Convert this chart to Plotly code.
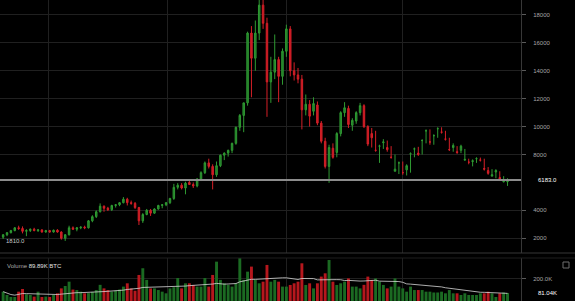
import pandas as pd
import plotly.graph_objects as go

# ---------------- data (3-day candles, BTC/USD) ----------------
start_date = "2017-05-27"
n_candles = 131

opens = [2080, 2250, 2400, 2550, 2750, 2700, 2500, 2550, 2650, 2550,
         2600, 2450, 2550, 2450, 2580, 2450, 2000, 2250, 2750, 2650,
         2750, 2800, 2750, 3250, 3550, 3900, 4300, 4150, 4050, 4350,
         4400, 4550, 4800, 4550, 4500, 4200, 3250, 3700, 4000, 3800,
         4100, 4350, 4400, 4550, 4850, 5650, 5800, 5600, 6000, 5850,
         5750, 6250, 6700, 7400, 7150, 6550, 7200, 7950, 8100, 8300,
         8800, 9950, 10800, 11700, 16700, 14900, 16700, 18700, 17400, 13200,
         13900, 14800, 13600, 15400, 17000, 14000, 13700, 13400, 11200, 11600,
         11100, 11550, 10250, 8950, 7150, 8450, 8150, 9500, 11000, 11300,
         10100, 10400, 11000, 11500, 10000, 9500, 8300, 8600, 8850, 8500,
         7800, 6800, 7400, 6700, 6900, 8050, 8400, 8100, 9000, 9700,
         8900, 9350, 9850, 9600, 9100, 8350, 8500, 8200, 8300, 7600,
         7450, 7500, 7700, 7600, 7000, 6850, 6450, 6750, 6350, 6050, 6050]
highs = [2300, 2450, 2600, 2800, 2900, 2850, 2650, 2700, 2750, 2650,
         2650, 2600, 2600, 2620, 2650, 2500, 2300, 2900, 2850, 2800,
         2850, 2900, 3300, 3650, 4000, 4500, 4350, 4250, 4400, 4450,
         4600, 4950, 4900, 4700, 4600, 4250, 3800, 4100, 4100, 4150,
         4400, 4450, 4600, 4900, 5900, 5950, 5950, 6050, 6150, 6000,
         6300, 6800, 7500, 7700, 7300, 7500, 8000, 8150, 8350, 8850,
         10000, 10900, 11700, 16800, 17200, 17600, 19100, 19800, 17800, 15000,
         16600, 15000, 15600, 17300, 17200, 14600, 14200, 13700, 12300, 11900,
         12100, 11800, 10400, 9200, 8700, 8800, 9600, 11100, 11750, 11500,
         10600, 11100, 11700, 11600, 10100, 9900, 9700, 8700, 9100, 9000,
         8600, 8000, 7500, 7500, 7300, 8150, 8500, 8550, 9100, 9800,
         9800, 9450, 9950, 9950, 9700, 9200, 8800, 8600, 8700, 8400,
         7700, 7650, 7800, 7780, 7700, 7100, 6950, 6950, 6800, 6450, 6300]
lows = [1950, 2150, 2350, 2500, 2600, 2350, 2150, 2450, 2500, 2450,
        2400, 2400, 2400, 2400, 2400, 1900, 1810, 2200, 2600, 2500,
        2650, 2650, 2700, 3150, 3450, 3850, 3900, 3950, 3950, 4200,
        4300, 4500, 4350, 4400, 4100, 2950, 3100, 3650, 3600, 3750,
        4050, 4150, 4300, 4450, 4750, 5500, 5500, 5150, 5850, 5600,
        5650, 6100, 6600, 7000, 5500, 6400, 7100, 7600, 7850, 8100,
        8700, 9700, 9600, 11500, 12100, 14000, 16200, 17000, 10700, 11700,
        13400, 11750, 13000, 15000, 13600, 13300, 13100, 9800, 10800, 10000,
        10800, 10100, 8800, 7000, 5970, 7700, 7800, 9300, 10700, 9900,
        9700, 10200, 10800, 9900, 8600, 8500, 8200, 7400, 8400, 8200,
        7700, 6800, 6600, 6550, 6500, 6700, 7800, 7900, 8000, 8800,
        8700, 8700, 9200, 9500, 9000, 8250, 8200, 8050, 8100, 7550,
        7300, 7150, 7400, 7500, 6850, 6550, 6450, 6300, 6100, 6000, 5750]
closes = [2250, 2400, 2550, 2750, 2700, 2500, 2550, 2650, 2550, 2600,
          2450, 2550, 2450, 2580, 2450, 2000, 2250, 2750, 2650, 2750,
          2800, 2750, 3250, 3550, 3900, 4300, 4150, 4050, 4350, 4400,
          4550, 4800, 4550, 4500, 4200, 3250, 3700, 4000, 3800, 4100,
          4350, 4400, 4550, 4850, 5650, 5800, 5600, 5950, 5850, 5750,
          6250, 6700, 7400, 7150, 6550, 7200, 7950, 8100, 8300, 8800,
          9950, 10800, 11700, 16700, 14900, 16700, 18700, 17400, 13200, 13900,
          14800, 13600, 15400, 17000, 14000, 13700, 13400, 11200, 11600, 10750,
          11650, 10250, 8950, 7150, 8500, 7800, 9500, 11000, 11350, 10150,
          10450, 11000, 11500, 10000, 8750, 9200, 8300, 8600, 8900, 8350,
          7800, 6950, 7400, 6700, 7200, 8050, 8400, 8000, 9000, 9700,
          8900, 9350, 9850, 9600, 9100, 8350, 8650, 8150, 8600, 7650,
          7450, 7550, 7700, 7600, 6950, 6650, 6550, 6850, 6250, 6100, 6183]
volumes_k = [92, 64, 47, 47, 92, 115, 70, 64, 50, 92,
             47, 50, 47, 64, 78, 120, 140, 177, 110, 106,
             92, 78, 80, 90, 106, 150, 120, 106, 92, 100,
             110, 135, 163, 120, 100, 234, 291, 192, 120, 120,
             106, 92, 78, 120, 130, 208, 120, 163, 163, 149,
             135, 135, 208, 135, 234, 347, 192, 163, 150, 135,
             163, 384, 192, 262, 305, 192, 163, 177, 319, 177,
             192, 177, 135, 135, 149, 163, 177, 333, 149, 163,
             120, 163, 220, 248, 361, 177, 149, 163, 177, 205,
             135, 135, 120, 150, 220, 192, 205, 177, 149, 120,
             135, 205, 135, 120, 92, 135, 106, 106, 106, 92,
             92, 85, 85, 92, 78, 106, 78, 78, 64, 78,
             64, 64, 64, 78, 78, 92, 78, 47, 78, 85, 81.04]

last_price = 6183.0
price_ticks = [2000, 4000, 8000, 10000, 12000, 14000, 16000, 18000]
volume_ticks = [200000]
volume_tick_text = ["200.0K"]
volume_label = "Volume"
volume_value_text = "89.89K BTC"

# ---------------- derived ----------------
dates = pd.date_range(start_date, periods=n_candles, freq="3D")
volumes = [v * 1000 for v in volumes_k]
vol_ma = pd.Series(volumes).rolling(20, min_periods=1).mean()
up = [c >= o for o, c in zip(opens, closes)]
vol_colors = ["#1b6a22" if u else "#b5171d" for u in up]

W, H = 575, 301
plot_right = 521 / W
sep_y = 1 - 253 / H
vol_top = 1 - 258 / H

fig = go.Figure()
fig.add_trace(go.Candlestick(
    x=dates, open=opens, high=highs, low=lows, close=closes,
    increasing=dict(line=dict(color="#2f9a32", width=1), fillcolor="#21762a"),
    decreasing=dict(line=dict(color="#d41f27", width=1), fillcolor="#c81b23"),
    xaxis="x", yaxis="y", showlegend=False, hoverinfo="skip"))
fig.add_trace(go.Bar(
    x=dates, y=volumes, marker=dict(color=vol_colors, line=dict(width=0)),
    xaxis="x2", yaxis="y2", showlegend=False, hoverinfo="skip"))
fig.add_trace(go.Scatter(
    x=dates, y=vol_ma, mode="lines", line=dict(color="rgba(215,215,215,0.8)", width=1),
    xaxis="x2", yaxis="y2", showlegend=False, hoverinfo="skip"))

grid = "rgb(32,32,32)"
xr = ["2017-05-24 14:00", "2018-07-01 10:00"]
tickfont = dict(family="Liberation Sans, Arial, sans-serif", size=6, color="rgb(165,165,165)")

fig.update_layout(
    width=W, height=H,
    margin=dict(l=0, r=0, t=0, b=0),
    paper_bgcolor="#000000", plot_bgcolor="#000000",
    showlegend=False, bargap=0.25, boxgap=0.45,
    xaxis=dict(domain=[0, plot_right], range=xr, type="date",
               rangeslider=dict(visible=False),
               tick0="2017-07-01", dtick="M3", showticklabels=False,
               showgrid=True, gridcolor=grid, gridwidth=1, zeroline=False,
               anchor="y"),
    xaxis2=dict(domain=[0, plot_right], range=xr, type="date", matches="x",
                tick0="2017-07-01", dtick="M3", showticklabels=False,
                showgrid=True, gridcolor=grid, gridwidth=1, zeroline=False,
                anchor="y2"),
    yaxis=dict(domain=[sep_y, 1], range=[945, 19069], side="right", anchor="x",
               tickvals=price_ticks, tickformat="d", ticks="outside", ticklen=4,
               tickcolor="rgb(90,90,90)", tickfont=tickfont,
               ticklabelstandoff=6,
               showgrid=True, gridcolor=grid, gridwidth=1, zeroline=False,
               showline=True, linecolor="rgb(55,55,55)", linewidth=1),
    yaxis2=dict(domain=[0, vol_top], range=[12800, 378000], side="right", anchor="x2",
                tickvals=volume_ticks, ticktext=volume_tick_text, ticks="outside",
                ticklen=4, tickcolor="rgb(90,90,90)", tickfont=tickfont,
                ticklabelstandoff=6,
                showgrid=True, gridcolor=grid, gridwidth=1, zeroline=False,
                showline=True, linecolor="rgb(55,55,55)", linewidth=1),
)

# last-price line
fig.add_shape(type="line", xref="paper", yref="y", x0=0, x1=plot_right,
              y0=last_price, y1=last_price, line=dict(color="rgb(140,140,140)", width=2))
# pane separators
fig.add_shape(type="line", xref="paper", yref="paper", x0=0, x1=1, y0=sep_y, y1=sep_y,
              line=dict(color="rgb(55,55,55)", width=1))
fig.add_shape(type="line", xref="paper", yref="paper", x0=0, x1=1, y0=vol_top, y1=vol_top,
              line=dict(color="rgb(30,30,30)", width=1))
# small pane button
fig.add_shape(type="rect", xref="paper", yref="paper",
              x0=563 / W, x1=569 / W, y0=1 - 268 / H, y1=1 - 262 / H,
              line=dict(color="rgb(110,110,110)", width=1))

label_font = dict(family="Liberation Sans, Arial, sans-serif", size=6)
fig.add_annotation(x=536 / W, xref="paper", y=last_price, yref="y",
                   text=f"{last_price:.1f}", showarrow=False, xanchor="left", yanchor="middle",
                   font=dict(color="#ffffff", **label_font))
fig.add_annotation(x=536 / W, xref="paper", y=volumes[-1], yref="y2",
                   text=f"{volumes_k[-1]:.2f}K", showarrow=False, xanchor="left", yanchor="middle",
                   font=dict(color="#ffffff", **label_font))
fig.add_annotation(x=dates[0], xref="x", y=min(lows), yref="y",
                   text=f"{min(lows):.1f}", showarrow=False, xanchor="left", yanchor="middle",
                   xshift=1, font=dict(color="rgb(200,200,200)", **label_font))
fig.add_annotation(x=5 / W, xref="paper", y=1 - 266 / H, yref="paper",
                   text=f"<span style='color:rgb(170,170,170)'>{volume_label}</span> "
                        f"<span style='color:rgb(225,225,225)'>{volume_value_text}</span>",
                   showarrow=False, xanchor="left", yanchor="middle",
                   font=dict(color="rgb(190,190,190)", **label_font))

fig.write_html("out.html")
